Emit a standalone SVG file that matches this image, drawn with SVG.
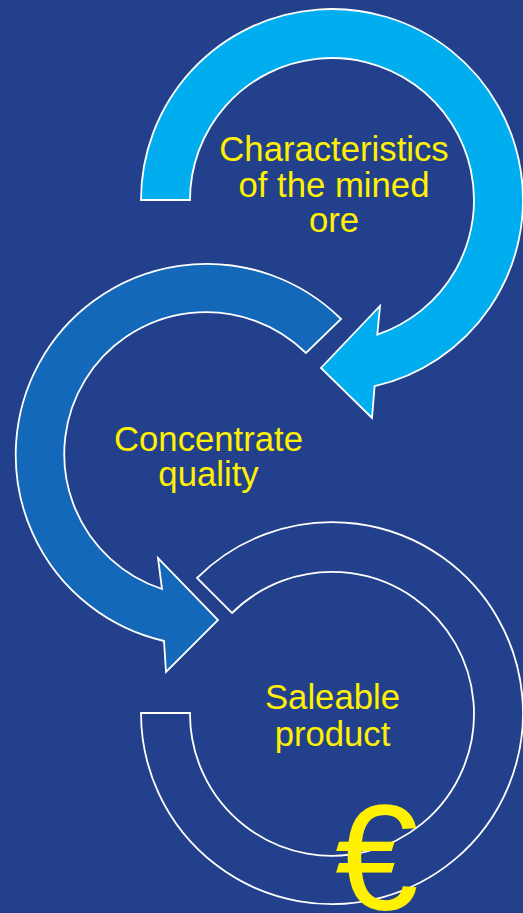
<svg xmlns="http://www.w3.org/2000/svg" width="523" height="913" viewBox="0 0 523 913">
  <style>
    .arc { stroke: #FFFFFF; stroke-width: 1.8; stroke-linejoin: miter; }
    .lbl { font-family: "Liberation Sans", Arial, sans-serif; font-size: 34.7px; fill: #FFF100; text-anchor: middle; }
    .euro { font-family: "Liberation Sans", Arial, sans-serif; font-size: 150px; fill: #FFF100; }
  </style>
  <rect x="0" y="0" width="523" height="913" fill="#23408D"/>

  <g id="connectors">
    <!-- upper arc: clockwise from the left, head pointing back inward -->
    <path id="arrow-ore" class="arc" fill="#00AEEF"
          d="M 141,200 A 191 191 0 1 1 374.6,386.2 L 372,418 L 321,368 L 380,306 L 377.3,334.6 A 142 142 0 1 0 190,200 Z"/>
    <!-- middle arc: counter-clockwise around the left side -->
    <path id="arrow-concentrate" class="arc" fill="#1468B9"
          d="M 341,319 A 191 191 0 1 0 164,641 L 166,672 L 218,620 L 158,558 L 162,589 A 142 142 0 1 1 306,353 Z"/>
    <!-- lower arc: outline only -->
    <path id="arc-product" class="arc" fill="none"
          d="M 141,713 A 191 191 0 1 0 197,578 L 232,613 A 142 142 0 1 1 190,713 Z"/>
  </g>

  <g id="node-ore">
    <text class="lbl" x="334" y="161">Characteristics</text>
    <text class="lbl" x="334" y="196.5">of the mined</text>
    <text class="lbl" x="334" y="232">ore</text>
  </g>

  <g id="node-concentrate">
    <text class="lbl" x="208.5" y="451">Concentrate</text>
    <text class="lbl" x="208.5" y="486">quality</text>
  </g>

  <g id="node-product">
    <text class="lbl" x="332.5" y="709">Saleable</text>
    <text class="lbl" x="332.5" y="746">product</text>
  </g>

  <g id="node-euro">
    <text class="euro" x="335" y="910">€</text>
  </g>
</svg>
